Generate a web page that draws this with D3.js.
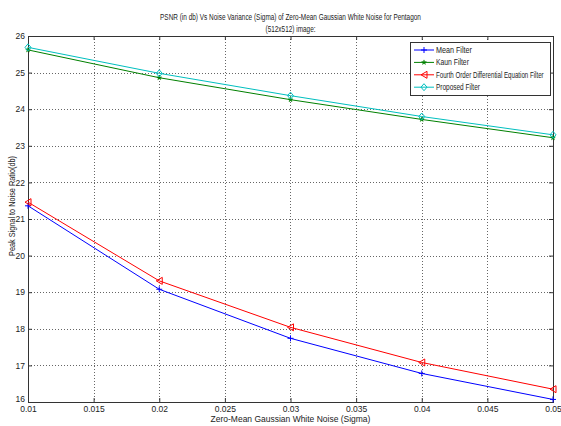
<!DOCTYPE html>
<html>
<head>
    <meta charset="utf-8" />
    <title>PSNR vs Noise Variance</title>
    <script type="text/javascript" src="https://cdn.jsdelivr.net/npm/d3@7"></script>
    <style>
        body { margin: 0; background: #fff; }
        text { font-family: "Liberation Sans Narrow", "Liberation Sans", Arial, sans-serif; fill: #222; }
    </style>
</head>
<body>
    <svg width="561" height="426"></svg>
    <script>

        // data
        var sigma = [0.01, 0.02, 0.03, 0.04, 0.05];
        var meanFilter = [21.36, 19.08, 17.74, 16.78, 16.07];
        var kaunFilter = [25.62, 24.86, 24.26, 23.72, 23.22];
        var fourthOrder = [21.46, 19.31, 18.04, 17.08, 16.35];
        var proposed = [25.69, 24.98, 24.37, 23.80, 23.30];

        var xTicks = [0.01, 0.015, 0.02, 0.025, 0.03, 0.035, 0.04, 0.045, 0.05];
        var yTicks = [16, 17, 18, 19, 20, 21, 22, 23, 24, 25, 26];

        var seriesNames = ["Mean Filter", "Kaun Filter", "Fourth Order Differential Equation Filter", "Proposed Filter"];
        var seriesValues = [meanFilter, kaunFilter, fourthOrder, proposed];
        var seriesColors = ["#0000ff", "#008000", "#ff0000", "#00bfbf"];
        var seriesMarkers = ["plus", "star", "triLeft", "diamond"];

        var svg = d3.select("svg"),
            width = +svg.attr("width"),
            height = +svg.attr("height");

        var margin = { top: 36, right: 8, bottom: 24, left: 28 };
        var x = d3.scaleLinear().domain([0.01, 0.05]).range([margin.left, width - margin.right]);
        var y = d3.scaleLinear().domain([16, 26]).range([height - margin.bottom, margin.top]);

        var plotW = width - margin.left - margin.right,
            plotH = height - margin.top - margin.bottom;

        // squeeze a text horizontally to a given width (keeps the real bbox)
        function squeeze(t, w, ox, oy, anchor) {
            var n = t.node().getComputedTextLength();
            var s = Math.min(1, w / n);
            t.attr("x", 0).attr("y", 0).attr("text-anchor", anchor || "start")
                .attr("transform", "translate(" + ox + "," + oy + ") scale(" + s + ",1)");
        }

        // grid
        var grid = svg.append("g").attr("stroke", "#666").attr("stroke-dasharray", "1,2").attr("stroke-width", 1);
        grid.selectAll(".gx").data(xTicks.slice(1, -1)).enter().append("line")
            .attr("x1", function (d) { return Math.round(x(d)) + 0.5; })
            .attr("x2", function (d) { return Math.round(x(d)) + 0.5; })
            .attr("y1", margin.top).attr("y2", height - margin.bottom);
        grid.selectAll(".gy").data(yTicks.slice(1, -1)).enter().append("line")
            .attr("y1", function (d) { return Math.round(y(d)) + 0.5; })
            .attr("y2", function (d) { return Math.round(y(d)) + 0.5; })
            .attr("x1", margin.left).attr("x2", width - margin.right);

        // axes (ticks inward)
        var xAxis = d3.axisBottom(x).tickValues(xTicks).tickSize(-4).tickPadding(6)
            .tickFormat(function (d) { return String(+d.toFixed(3)); });
        var gx = svg.append("g").attr("transform", "translate(0," + (height - margin.bottom) + ")").call(xAxis);
        var xTop = d3.axisTop(x).tickValues(xTicks).tickSize(-4).tickFormat("");
        var gxt = svg.append("g").attr("transform", "translate(0," + margin.top + ")").call(xTop);

        var yAxis = d3.axisLeft(y).tickValues(yTicks).tickSize(-4).tickPadding(3);
        var gy = svg.append("g").attr("transform", "translate(" + margin.left + ",0)").call(yAxis);
        var yRight = d3.axisRight(y).tickValues(yTicks).tickSize(-4).tickFormat("");
        var gyr = svg.append("g").attr("transform", "translate(" + (width - margin.right) + ",0)").call(yRight);

        [gx, gxt, gy, gyr].forEach(function (g) {
            g.select(".domain").remove();
            g.selectAll("line").attr("stroke", "#333");
            g.selectAll("text").attr("font-size", 8.5).attr("fill", "#222")
                .style("font-family", "'Liberation Sans Narrow', 'Liberation Sans', Arial, sans-serif");
        });
        gx.selectAll("text").attr("dy", "0.45em");
        // lowest y label sits a little higher, as in the reference
        gy.selectAll("text").filter(function (d) { return d === 16; }).attr("dy", "-0.05em");

        svg.append("rect")
            .attr("x", margin.left + 0.5).attr("y", margin.top + 0.5)
            .attr("width", plotW).attr("height", plotH)
            .attr("fill", "none").attr("stroke", "#333").attr("stroke-width", 1);

        // markers
        function drawMarker(g, type, cx, cy, color) {
            if (type === "plus") {
                g.append("path").attr("d", "M" + (cx - 3) + "," + cy + "H" + (cx + 3) + "M" + cx + "," + (cy - 3) + "V" + (cy + 3))
                    .attr("stroke", color).attr("fill", "none");
            } else if (type === "star") {
                g.append("path").attr("d", d3.symbol().type(d3.symbolStar).size(7)())
                    .attr("transform", "translate(" + cx + "," + cy + ")")
                    .attr("fill", color).attr("stroke", color).attr("stroke-width", 0.5);
            } else if (type === "triLeft") {
                g.append("path").attr("d", "M" + (cx - 3) + "," + cy + "L" + (cx + 3) + "," + (cy - 3.5) + "L" + (cx + 3) + "," + (cy + 3.5) + "Z")
                    .attr("stroke", color).attr("fill", "none");
            } else {
                g.append("path").attr("d", "M" + cx + "," + (cy - 3.5) + "L" + (cx + 3) + "," + cy + "L" + cx + "," + (cy + 3.5) + "L" + (cx - 3) + "," + cy + "Z")
                    .attr("stroke", color).attr("fill", "none");
            }
        }

        var line = d3.line()
            .x(function (d, i) { return x(sigma[i]); })
            .y(function (d) { return y(d); });

        seriesValues.forEach(function (vals, k) {
            var g = svg.append("g");
            g.append("path").datum(vals).attr("d", line)
                .attr("fill", "none").attr("stroke", seriesColors[k]).attr("stroke-width", 1);
            vals.forEach(function (v, i) {
                drawMarker(g, seriesMarkers[k], x(sigma[i]), y(v), seriesColors[k]);
            });
        });

        // legend
        var lg = svg.append("g");
        lg.append("rect").attr("x", 410.5).attr("y", 42.5).attr("width", 140).attr("height", 53)
            .attr("fill", "#fff").attr("stroke", "#333");
        seriesNames.forEach(function (name, k) {
            var ly = 50 + k * 12.4;
            lg.append("line").attr("x1", 414).attr("x2", 434).attr("y1", ly).attr("y2", ly)
                .attr("stroke", seriesColors[k]);
            drawMarker(lg, seriesMarkers[k], 424, ly, seriesColors[k]);
            var t = lg.append("text").attr("font-size", 8.5).text(name);
            squeeze(t, [36, 33, 108, 44][k], 436, ly + 3);
        });

        // titles
        var t1 = svg.append("text").attr("font-size", 9.5)
            .text("PSNR (in db) Vs Noise Variance (Sigma) of Zero-Mean Gaussian White Noise for Pentagon");
        squeeze(t1, 261, 290.5, 20, "middle");
        var t2 = svg.append("text").attr("font-size", 9.5).text("(512x512) image:");
        squeeze(t2, 50, 290.5, 32, "middle");

        var xl = svg.append("text").attr("font-size", 9.5).text("Zero-Mean Gaussian White Noise (Sigma)");
        squeeze(xl, 160, 290.5, 422, "middle");

        var yl = svg.append("text").attr("font-size", 9.5).text("Peak Signal to Noise Ratio(db)");
        var yn = yl.node().getComputedTextLength();
        yl.attr("text-anchor", "middle")
            .attr("transform", "translate(15,206) rotate(-90) scale(" + Math.min(1, 100 / yn) + ",1)");

    </script>
</body>
</html>
